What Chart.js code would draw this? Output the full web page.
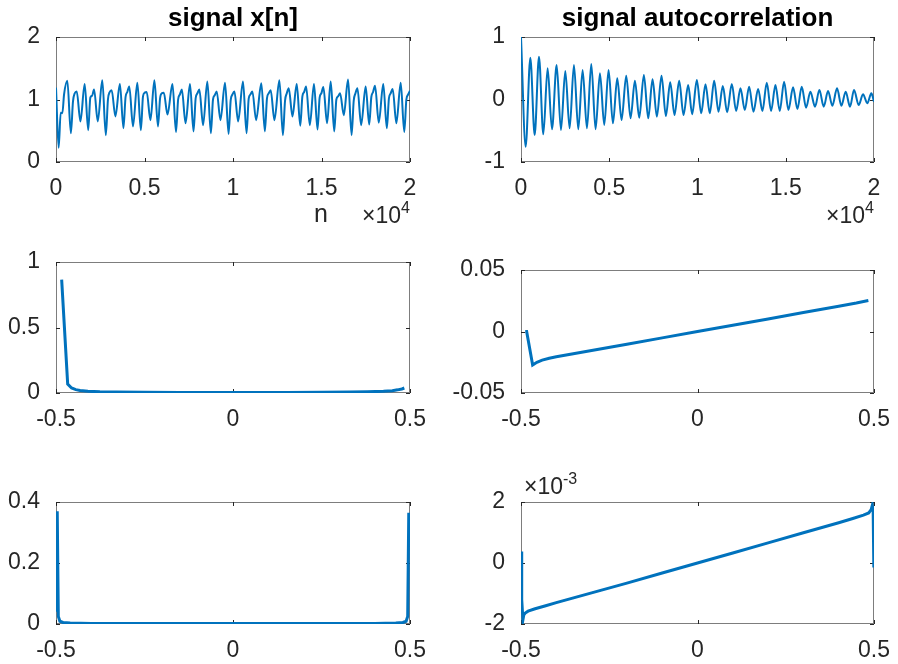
<!DOCTYPE html>
<html lang="en">
<head>
<meta charset="UTF-8">
<title>signal x[n] and autocorrelation</title>
<script src="https://cdn.jsdelivr.net/npm/chart.js"></script>
<style>
  html, body { margin: 0; padding: 0; background: #fff; }
  #fig { position: relative; width: 898px; height: 664px; }
  #fig canvas { position: absolute; left: 0; top: 0; }
</style>
</head>
<body>
<div id="fig">
  <canvas id="c1" width="898" height="664"></canvas>
  <canvas id="c2" width="898" height="664"></canvas>
  <canvas id="c3" width="898" height="664"></canvas>
  <canvas id="c4" width="898" height="664"></canvas>
  <canvas id="c5" width="898" height="664"></canvas>
  <canvas id="c6" width="898" height="664"></canvas>
</div>
<script>
// signal x[n] (peaks, troughs, shoulders)
const sigN = [0, 150, 265, 360, 455,
  640, 840, 960, 1060, 1170, 1380,
  1620, 1820, 1940, 2040, 2150, 2360,
  2615, 2815, 2935, 3035, 3145, 3355,
  3610, 3810, 3930, 4030, 4140, 4350,
  4595, 4795, 4915, 5015, 5125, 5335,
  5560, 5760, 5880, 5980, 6090, 6300,
  6580, 6780, 6900, 7000, 7110, 7320,
  7570, 7770, 7890, 7990, 8100, 8310,
  8550, 8750, 8870, 8970, 9080, 9290,
  9550, 9750, 9870, 9970, 10080, 10290,
  10565, 10765, 10885, 10985, 11095, 11305,
  11600, 11800, 11920, 12020, 12130, 12340,
  12620, 12820, 12940, 13040, 13150, 13360,
  13600, 13800, 13920, 14020, 14130, 14340,
  14575, 14775, 14895, 14995, 15105, 15315,
  15520, 15720, 15840, 15940, 16050, 16260,
  16500, 16700, 16820, 16920, 17030, 17240,
  17495, 17695, 17815, 17915, 18025, 18235,
  18490, 18690, 18810, 18910, 19020, 19230,
  19475, 19675, 19795, 19895, 20000];
const sigX = [1.19, 0.23, 0.79, 0.78, 1.08,
  1.30, 0.46, 0.97, 1.10, 1.13, 0.65,
  1.25, 0.51, 1.03, 1.06, 1.16, 0.65,
  1.31, 0.43, 1.00, 1.12, 1.15, 0.73,
  1.25, 0.54, 1.04, 1.12, 1.21, 0.57,
  1.27, 0.51, 1.05, 1.11, 1.12, 0.67,
  1.31, 0.57, 1.02, 1.10, 1.11, 0.76,
  1.25, 0.48, 1.00, 1.08, 1.16, 0.62,
  1.25, 0.49, 1.02, 1.10, 1.16, 0.59,
  1.29, 0.46, 1.00, 1.07, 1.13, 0.67,
  1.27, 0.45, 0.99, 1.08, 1.13, 0.65,
  1.29, 0.46, 1.01, 1.08, 1.13, 0.67,
  1.26, 0.49, 1.02, 1.10, 1.15, 0.67,
  1.31, 0.43, 0.98, 1.10, 1.18, 0.73,
  1.25, 0.58, 1.05, 1.12, 1.21, 0.59,
  1.25, 0.52, 1.03, 1.10, 1.20, 0.62,
  1.29, 0.49, 1.00, 1.05, 1.10, 0.75,
  1.32, 0.43, 0.98, 1.10, 1.18, 0.59,
  1.21, 0.60, 1.04, 1.12, 1.22, 0.63,
  1.25, 0.54, 1.02, 1.10, 1.17, 0.62,
  1.27, 0.48, 1.00, 1.08, 1.14];

// autocorrelation: alternating extrema
const acLag = [0, 264, 528, 774, 1019, 1264, 1509, 1755, 2019, 2264, 2509, 2755, 3000, 3245, 3491,
  3736, 3981, 4226, 4472, 4717, 4962, 5208, 5453, 5698, 5962, 6208, 6453, 6698, 6962, 7208,
  7453, 7698, 7962, 8208, 8453, 8698, 8962, 9208, 9472, 9698, 9962, 10208, 10453, 10698, 10943,
  11189, 11434, 11679, 11943, 12189, 12434, 12679, 12925, 13170, 13434, 13679, 13925, 14170, 14415,
  14660, 14906, 15151, 15415, 15660, 15906, 16151, 16396, 16660, 16906, 17151, 17396, 17642, 17906,
  18151, 18396, 18642, 18868, 19132, 19377, 19623, 19849, 20000];
const acVal = [1.0, -0.755, 0.669, -0.568, 0.685, -0.557, 0.499, -0.477, 0.552, -0.488, 0.456, -0.461, 0.552, -0.477, 0.472,
  -0.461, 0.568, -0.477, 0.419, -0.408, 0.472, -0.381, 0.339, -0.328, 0.381, -0.301, 0.301, -0.291, 0.392, -0.301,
  0.323, -0.275, 0.381, -0.264, 0.275, -0.248, 0.301, -0.248, 0.232, -0.237, 0.312, -0.221, 0.243, -0.221, 0.301,
  -0.195, 0.216, -0.205, 0.248, -0.184, 0.179, -0.168, 0.205, -0.195, 0.168, -0.184, 0.269, -0.184, 0.232,
  -0.184, 0.285, -0.168, 0.195, -0.152, 0.205, -0.131, 0.125, -0.115, 0.152, -0.115, 0.136, -0.099, 0.179,
  -0.099, 0.125, -0.115, 0.152, -0.088, 0.083, -0.061, 0.099, -0.035];

// frequency plots
const spec1F = [-0.484, -0.467, -0.456, -0.444, -0.432, -0.41, -0.376, -0.33, -0.25, -0.15, 0, 0.15, 0.25, 0.33, 0.38, 0.425, 0.45, 0.465, 0.477, 0.484];
const spec1Y = [0.865, 0.068, 0.038, 0.026, 0.019, 0.013, 0.009, 0.007, 0.005, 0.004, 0.004, 0.004, 0.005, 0.007, 0.009, 0.013, 0.018, 0.024, 0.031, 0.038];

const spec2F = [-0.488, -0.484, -0.467, -0.455, -0.44, -0.42, -0.4, -0.3, -0.2, -0.1, 0, 0.1, 0.2, 0.3, 0.4, 0.45, 0.484];
const spec2Y = [0, 0, -0.0272, -0.0250, -0.0233, -0.0217, -0.0206, -0.0155, -0.0103, -0.0052, 0, 0.0051, 0.0102, 0.0154, 0.0206, 0.0232, 0.0252];

const spec3F = [-0.4995, -0.4965, -0.4935, -0.489, -0.48, -0.46, -0.4, -0.2, 0, 0.2, 0.4, 0.46, 0.48, 0.489, 0.4935, 0.4965];
const spec3Y = [0.04, 0.37, 0.025, 0.009, 0.005, 0.003, 0.002, 0.0015, 0.0015, 0.0015, 0.002, 0.003, 0.005, 0.009, 0.025, 0.365];

const spec4F = [-0.4995, -0.498, -0.4945, -0.492, -0.488, -0.48, -0.46, -0.43, -0.4, -0.3, -0.2, -0.1, 0, 0.1, 0.2, 0.3, 0.4, 0.44, 0.47, 0.485, 0.492, 0.495, 0.4965, 0.4975, 0.4995];
const spec4Y = [0.00038, -0.0012, -0.00186, -0.0017, -0.00164, -0.00158, -0.0015, -0.0014, -0.0013, -0.00098, -0.00066, -0.00033, 0, 0.00033, 0.00066, 0.00099, 0.00132, 0.00146, 0.00157, 0.00164, 0.00175, 0.00188, 0.0017, 0.00185, -0.00015];

// ticks
const nTicks = [0, 5000, 10000, 15000, 20000];
const nTickLabels = ['0', '0.5', '1', '1.5', '2'];
const fTicks = [-0.5, 0, 0.5];
const fTickLabels = ['-0.5', '0', '0.5'];
const sigTicks = [0, 1, 2], sigTickLabels = ['0', '1', '2'];
const acTicks = [-1, 0, 1], acTickLabels = ['-1', '0', '1'];
const s1Ticks = [0, 0.5, 1], s1TickLabels = ['0', '0.5', '1'];
const s2Ticks = [-0.05, 0, 0.05], s2TickLabels = ['-0.05', '0', '0.05'];
const s3Ticks = [0, 0.2, 0.4], s3TickLabels = ['0', '0.2', '0.4'];
const s4Ticks = [-0.002, 0, 0.002], s4TickLabels = ['-2', '0', '2'];

const FONT = "'Liberation Sans', Arial, Helvetica, sans-serif";
const W = 898, H = 664, XH = 40, TICK = 4;
const LINE = '#0072BD';

Chart.defaults.font.family = FONT;
Chart.defaults.font.size = 23;
Chart.defaults.color = '#262626';

// matlab style box + inward ticks, and the loose texts
const boxPlugin = {
  id: 'matlabBox',
  beforeDatasetsDraw(chart) {
    const { ctx, chartArea: a } = chart;
    const xs = chart.scales.x, ys = chart.scales.y;
    ctx.save();
    ctx.strokeStyle = '#262626';
    ctx.lineWidth = 1;
    ctx.beginPath();
    xs.ticks.forEach(t => {
      const px = Math.round(xs.getPixelForValue(t.value)) + 0.5;
      ctx.moveTo(px, a.bottom); ctx.lineTo(px, a.bottom - TICK);
      ctx.moveTo(px, a.top); ctx.lineTo(px, a.top + TICK);
    });
    ys.ticks.forEach(t => {
      const py = Math.round(ys.getPixelForValue(t.value)) + 0.5;
      ctx.moveTo(a.left, py); ctx.lineTo(a.left + TICK, py);
      ctx.moveTo(a.right, py); ctx.lineTo(a.right - TICK, py);
    });
    ctx.stroke();
    ctx.strokeStyle = 'rgba(38,38,38,0.6)';
    ctx.strokeRect(a.left + 0.5, a.top + 0.5, a.width - 1, a.height - 1);
    ctx.restore();
  },
  afterDraw(chart, args, opts) {
    const { ctx, chartArea: a } = chart;
    ctx.save();
    ctx.textBaseline = 'alphabetic';
    if (opts.title) {
      ctx.font = 'bold 26px ' + FONT;
      ctx.fillStyle = '#000';
      ctx.textAlign = 'center';
      ctx.fillText(opts.title, (a.left + a.right) / 2, 26);
    }
    if (opts.xlabel) {
      ctx.font = '25px ' + FONT;
      ctx.fillStyle = '#262626';
      ctx.textAlign = 'center';
      ctx.fillText(opts.xlabel.text, opts.xlabel.x, opts.xlabel.y);
    }
    if (opts.exp) {
      const e = opts.exp;
      ctx.fillStyle = '#262626';
      ctx.textAlign = 'left';
      ctx.font = '23px ' + FONT;
      const w1 = ctx.measureText('\u00d710').width;
      ctx.font = '16px ' + FONT;
      const w2 = ctx.measureText(e.sup).width;
      const x0 = e.align === 'right' ? e.x - w1 - w2 : e.x;
      ctx.font = '23px ' + FONT;
      ctx.fillText('\u00d710', x0, e.y);
      ctx.font = '16px ' + FONT;
      ctx.fillText(e.sup, x0 + w1, e.y - 10);
    }
    ctx.restore();
  }
};

function panel(id, p) {
  const yw = p.l > 400 ? 80 : 50;
  return new Chart(document.getElementById(id), {
    type: 'line',
    data: {
      datasets: [{
        data: p.xs.map((x, i) => ({ x: x, y: p.ys[i] })),
        borderColor: LINE,
        borderWidth: p.lw,
        pointRadius: 0,
        fill: false,
        tension: 0,
        cubicInterpolationMode: p.smooth ? 'monotone' : 'default'
      }]
    },
    options: {
      responsive: false,
      animation: false,
      events: [],
      layout: { padding: { left: p.l - yw, right: W - p.r, top: p.t, bottom: H - p.b - XH } },
      plugins: {
        legend: { display: false },
        tooltip: { enabled: false },
        matlabBox: p.text
      },
      scales: {
        x: {
          type: 'linear', min: p.xMin, max: p.xMax,
          grid: { display: false }, border: { display: false },
          afterBuildTicks: s => { s.ticks = p.xTicks.map(v => ({ value: v })); },
          afterFit: s => { s.height = XH; },
          ticks: { padding: 5, autoSkip: false, maxRotation: 0, callback: (v, i) => p.xLabels[i] }
        },
        y: {
          type: 'linear', min: p.yMin, max: p.yMax,
          grid: { display: false }, border: { display: false },
          afterBuildTicks: s => { s.ticks = p.yTicks.map(v => ({ value: v })); },
          afterFit: s => { s.width = yw; },
          ticks: { padding: 8, autoSkip: false, callback: (v, i) => p.yLabels[i] }
        }
      }
    },
    plugins: [boxPlugin]
  });
}

panel('c1', {
  l: 56, r: 410, t: 37, b: 162, xs: sigN, ys: sigX, lw: 2, smooth: true,
  xMin: 0, xMax: 20000, xTicks: nTicks, xLabels: nTickLabels,
  yMin: 0, yMax: 2, yTicks: sigTicks, yLabels: sigTickLabels,
  text: { title: 'signal x[n]', xlabel: { text: 'n', x: 321, y: 222 }, exp: { sup: '4', align: 'right', x: 410, y: 223 } }
});
panel('c2', {
  l: 521, r: 874, t: 37, b: 162, xs: acLag, ys: acVal, lw: 2, smooth: true,
  xMin: 0, xMax: 20000, xTicks: nTicks, xLabels: nTickLabels,
  yMin: -1, yMax: 1, yTicks: acTicks, yLabels: acTickLabels,
  text: { title: 'signal autocorrelation', exp: { sup: '4', align: 'right', x: 874, y: 223 } }
});
panel('c3', {
  l: 56, r: 410, t: 262, b: 393, xs: spec1F, ys: spec1Y, lw: 3, smooth: false,
  xMin: -0.5, xMax: 0.5, xTicks: fTicks, xLabels: fTickLabels,
  yMin: 0, yMax: 1, yTicks: s1Ticks, yLabels: s1TickLabels,
  text: {}
});
panel('c4', {
  l: 521, r: 874, t: 270, b: 393, xs: spec2F, ys: spec2Y, lw: 3, smooth: false,
  xMin: -0.5, xMax: 0.5, xTicks: fTicks, xLabels: fTickLabels,
  yMin: -0.05, yMax: 0.05, yTicks: s2Ticks, yLabels: s2TickLabels,
  text: {}
});
panel('c5', {
  l: 56, r: 410, t: 502, b: 624, xs: spec3F, ys: spec3Y, lw: 3, smooth: false,
  xMin: -0.5, xMax: 0.5, xTicks: fTicks, xLabels: fTickLabels,
  yMin: 0, yMax: 0.4, yTicks: s3Ticks, yLabels: s3TickLabels,
  text: {}
});
panel('c6', {
  l: 521, r: 874, t: 502, b: 624, xs: spec4F, ys: spec4Y, lw: 3, smooth: false,
  xMin: -0.5, xMax: 0.5, xTicks: fTicks, xLabels: fTickLabels,
  yMin: -0.002, yMax: 0.002, yTicks: s4Ticks, yLabels: s4TickLabels,
  text: { exp: { sup: '-3', align: 'left', x: 524, y: 494 } }
});
</script>
</body>
</html>
